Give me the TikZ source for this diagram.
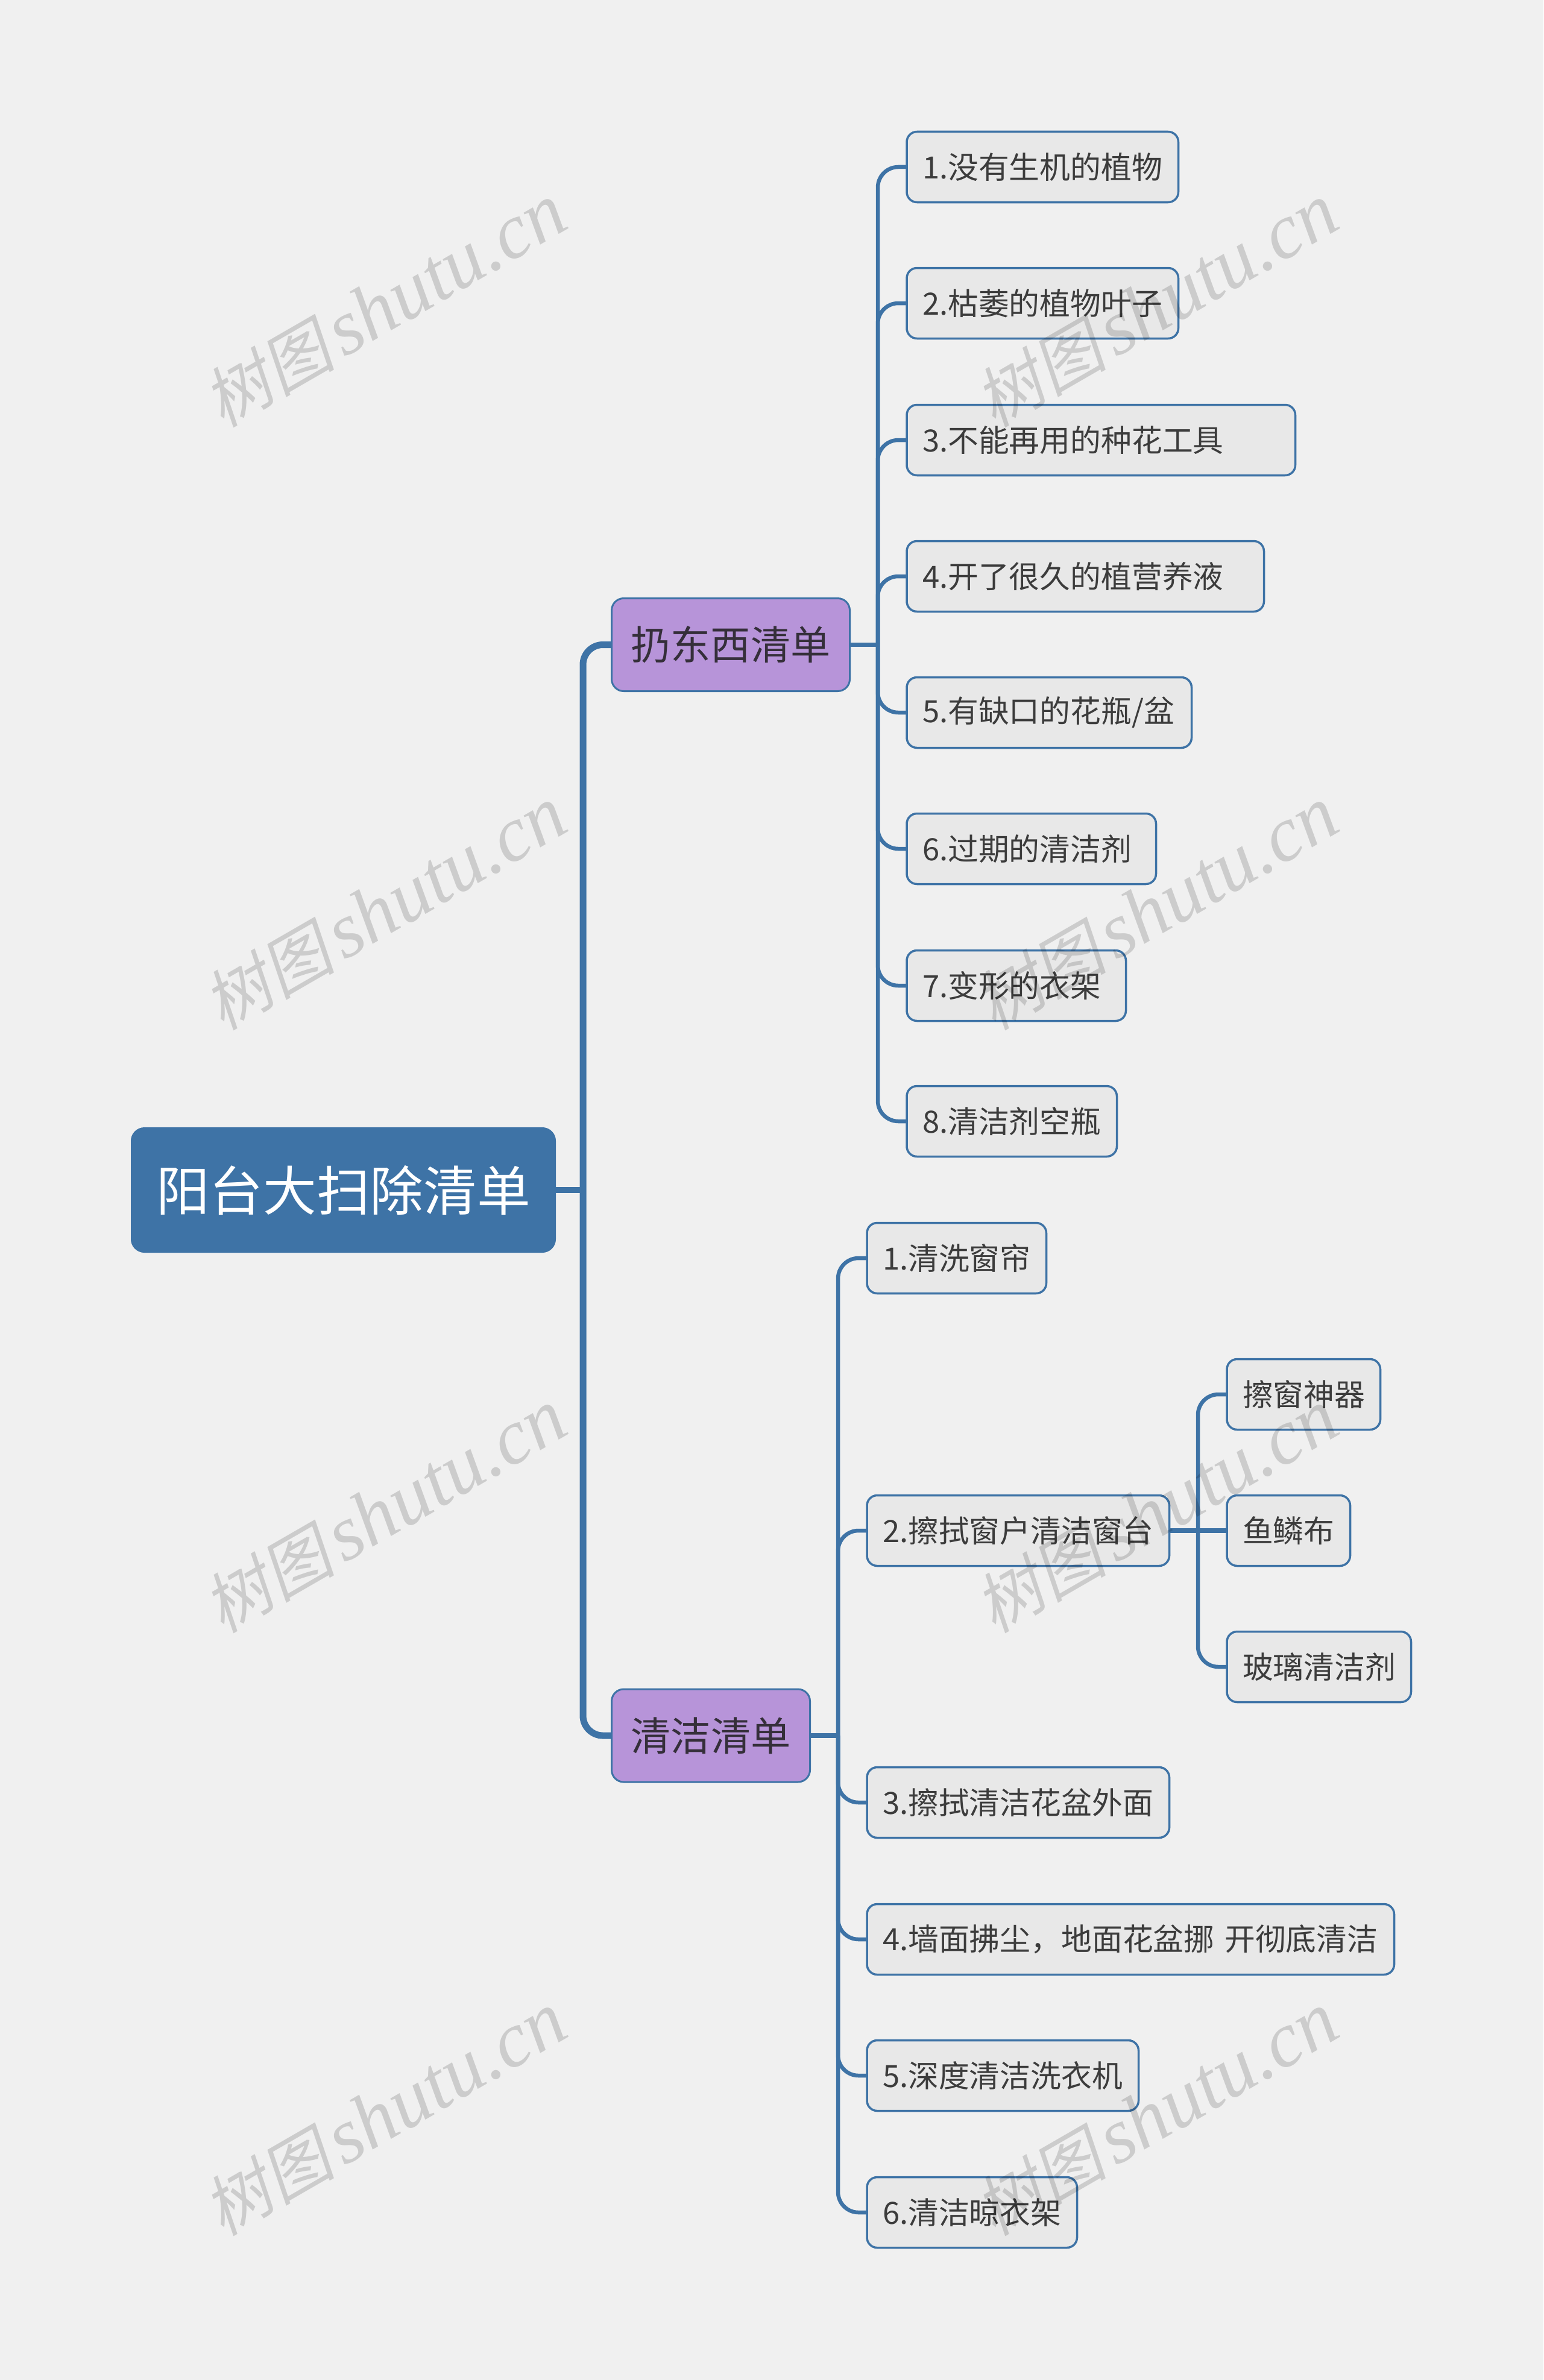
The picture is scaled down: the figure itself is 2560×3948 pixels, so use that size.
\documentclass[tikz,border=0pt]{standalone}
\usepackage{fontspec}
\setmainfont{Noto Sans CJK SC}
\newfontfamily\wmlat{Liberation Serif}
\newfontfamily\wmcjk[FakeSlant=0.2]{Noto Sans CJK SC}
\definecolor{bgc}{HTML}{F0F0F0}
\definecolor{mainb}{HTML}{3E73A6}
\definecolor{leaff}{HTML}{E8E8E8}
\definecolor{purp}{HTML}{B794D9}
\definecolor{leaft}{HTML}{3C3C3C}
\definecolor{catt}{HTML}{352F3A}
\tikzset{
 x=1bp,y=-1bp,
 boxbase/.style={anchor=west,inner sep=0pt,outer sep=0pt},
 rootbox/.style={boxbase,fill=mainb,draw=mainb,line width=1bp,rounded corners=22bp,text=white,minimum height=207bp,font=\fontsize{89}{92}\selectfont},
 catbox/.style={boxbase,fill=purp,draw=mainb,line width=3bp,rounded corners=20bp,text=catt,minimum height=154bp,font=\fontsize{66.5}{70}\selectfont},
 leafbox/.style={boxbase,fill=leaff,draw=mainb,line width=3.5bp,rounded corners=17bp,text=leaft,minimum height=117bp,inner xsep=26bp,align=left,font=\fontsize{51}{54}\selectfont},
 conn/.style={draw=mainb,line width=6.5bp,rounded corners=34bp},
 stem/.style={draw=mainb,line width=7.5bp},
 maincon/.style={draw=mainb,line width=11bp,rounded corners=33bp},
 wm/.style={text=black,text opacity=.15,rotate=30,inner sep=0pt}
}
\newcommand{\leaf}[5]{% name, left, right, y, text
 \node[leafbox,text width={#3bp-#2bp-53.5bp}] (#1) at (#2+1,#4) {\mbox{#5}};}
\begin{document}
\begin{tikzpicture}
\useasboundingbox[fill=bgc] (0,0) rectangle (2560,3948);
% nodes
\node[rootbox,minimum width=704bp] (root) at (217.5,1974) {阳台大扫除清单};
\node[catbox,minimum width=395bp] (c1) at (1014.5,1069.5) {扔东西清单};
\node[catbox,minimum width=329bp] (c2) at (1014.5,2879) {清洁清单};
\leaf{a}{1503}{1955}{277}{1.没有生机的植物}
\leaf{b}{1503}{1955}{503}{2.枯萎的植物叶子}
\leaf{c}{1503}{2149}{730}{3.不能再用的种花工具}
\leaf{d}{1503}{2097}{956}{4.开了很久的植营养液}
\leaf{e}{1503}{1977}{1182}{5.有缺口的花瓶/盆}
\leaf{f}{1503}{1918}{1408}{6.过期的清洁剂}
\leaf{g}{1503}{1868}{1635}{7.变形的衣架}
\leaf{h}{1503}{1853}{1860}{8.清洁剂空瓶}
\leaf{p}{1437}{1736}{2087}{1.清洗窗帘}
\leaf{q}{1437}{1940}{2539}{2.擦拭窗户清洁窗台}
\leaf{r}{1437}{1940}{2990}{3.擦拭清洁花盆外面}
\leaf{s}{1437}{2313}{3217}{4.墙面拂尘，地面花盆挪 开彻底清洁}
\leaf{t}{1437}{1889}{3443}{5.深度清洁洗衣机}
\leaf{u}{1437}{1787}{3670}{6.清洁晾衣架}
\leaf{x}{2034}{2290}{2313}{擦窗神器}
\leaf{y}{2034}{2240}{2539}{鱼鳞布}
\leaf{z}{2034}{2341}{2765}{玻璃清洁剂}
% connectors
\coordinate (T0) at (967,1974);
\coordinate (T1) at (1456,1069.5);
\coordinate (T2) at (1390,2879);
\coordinate (T3) at (1987,2539);
\draw[stem,line width=10bp] (root.east) -- (T0);
\draw[maincon] (c1.west) -| (T0) |- (c2.west);
\draw[stem] (c1.east) -- (T1);
\draw[stem] (c2.east) -- (T2);
\draw[stem] (q.east) -- (y.west);
\foreach \n in {a,b,c,d,e,f,g,h} \draw[conn] (\n.west) -| (T1);
\foreach \n in {p,q,r,s,t,u} \draw[conn] (\n.west) -| (T2);
\draw[conn] (x.west) -| (T3);
\draw[conn] (z.west) -| (T3);
% watermarks
\foreach \i in {0,1}\foreach \j in {0,1,2,3}{
 \node[wm] (w\i\j) at ({638+1280*\i},{507+1000*\j}) {{\wmcjk\fontsize{110}{115}\selectfont 树图}\hspace{14bp}{\wmlat\itshape\fontsize{130}{135}\selectfont shutu.cn}};
}
\end{tikzpicture}
\end{document}
